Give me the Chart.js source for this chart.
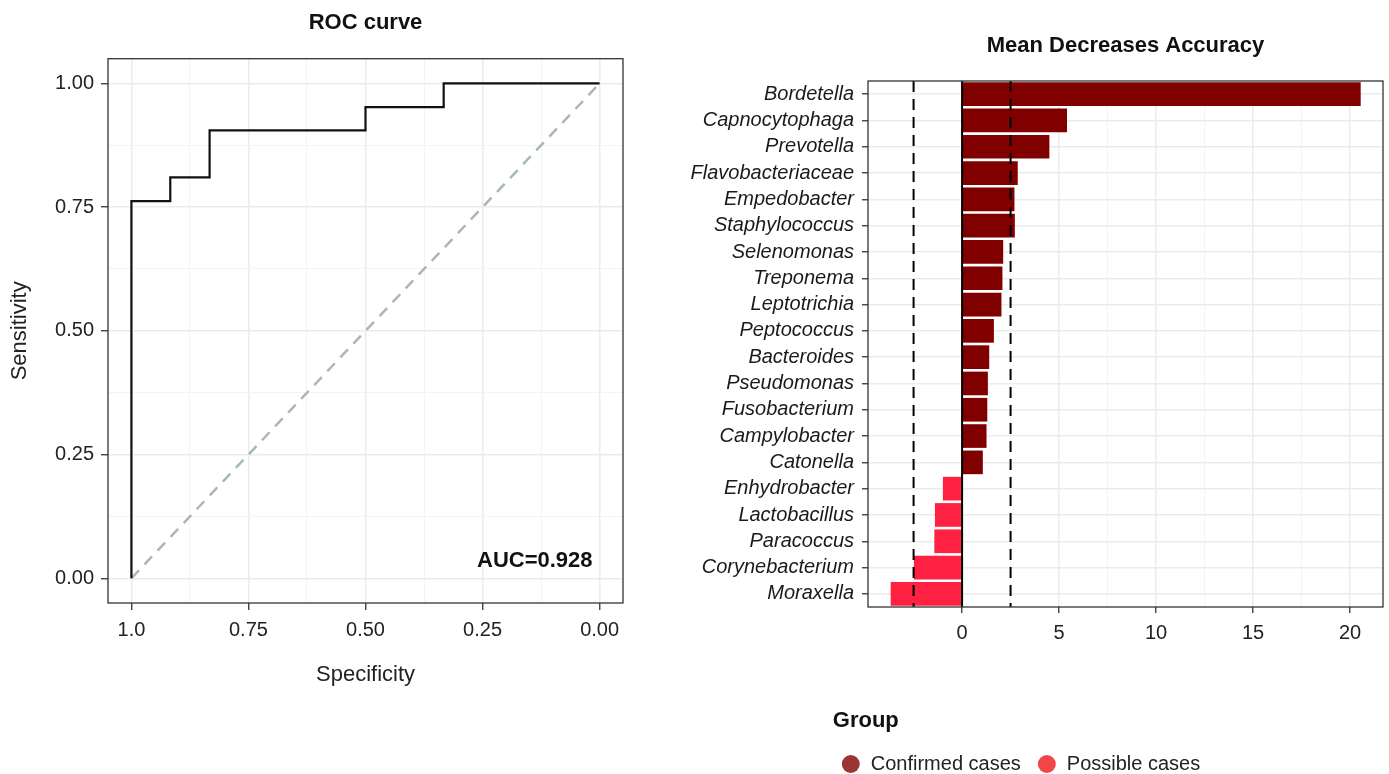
<!DOCTYPE html>
<html>
<head>
<meta charset="utf-8">
<title>ROC curve / Mean Decreases Accuracy</title>
<script src="https://cdn.jsdelivr.net/npm/chart.js@4.4.1/dist/chart.umd.min.js"></script>
<style>
  html, body { margin: 0; padding: 0; background: #fff; overflow: hidden; }
  #roc { position: absolute; left: 0; top: 0; }
  #mda { position: absolute; left: 650px; top: 0; }
</style>
</head>
<body>
<canvas id="roc" width="650" height="774"></canvas>
<canvas id="mda" width="739" height="784"></canvas>
<script>
// ROC curve corners
const rocSpecificity = [1, 1, 0.917, 0.917, 0.833, 0.833, 0.5, 0.5, 0.333, 0.333, 0];
const rocSensitivity = [0, 0.762, 0.762, 0.81, 0.81, 0.905, 0.905, 0.952, 0.952, 1, 1];
const chanceSpecificity = [1, 0];
const chanceSensitivity = [0, 1];
const rocTicks = [0, 0.25, 0.5, 0.75, 1];
const rocXLabels = ["0.00", "0.25", "0.50", "0.75", "1.0"];
const rocYLabels = ["0.00", "0.25", "0.50", "0.75", "1.00"];
const aucText = "AUC=0.928";

// variable importance
const genera = ["Bordetella", "Capnocytophaga", "Prevotella", "Flavobacteriaceae", "Empedobacter",
  "Staphylococcus", "Selenomonas", "Treponema", "Leptotrichia", "Peptococcus", "Bacteroides",
  "Pseudomonas", "Fusobacterium", "Campylobacter", "Catonella", "Enhydrobacter", "Lactobacillus",
  "Paracoccus", "Corynebacterium", "Moraxella"];
const accuracy = [20.55, 5.41, 4.5, 2.87, 2.7, 2.72, 2.12, 2.08, 2.03, 1.64, 1.4,
  1.33, 1.3, 1.26, 1.07, -0.99, -1.4, -1.43, -2.48, -3.68];
const groups = ["Confirmed cases", "Confirmed cases", "Confirmed cases", "Confirmed cases",
  "Confirmed cases", "Confirmed cases", "Confirmed cases", "Confirmed cases", "Confirmed cases",
  "Confirmed cases", "Confirmed cases", "Confirmed cases", "Confirmed cases", "Confirmed cases",
  "Confirmed cases", "Possible cases", "Possible cases", "Possible cases", "Possible cases",
  "Possible cases"];
const groupNames = ["Confirmed cases", "Possible cases"];
const accuracyTicks = [0, 5, 10, 15, 20];
const cutoffs = [-2.5, 2.5];

const barColors = ["#800000", "#ff2142"];
const keyColors = ["#9c3434", "#f14646"];

Chart.defaults.font.family = '"Liberation Sans", Arial, sans-serif';
Chart.defaults.color = "#222";

const majorGrid = "#ebebeb";
const minorGrid = "#f4f4f4";
const axisDark = "#333333";

const framePlugin = {
  id: "frame",
  afterDraw(chart) {
    const { ctx, chartArea: a } = chart;
    ctx.save();
    ctx.strokeStyle = axisDark;
    ctx.lineWidth = 1.3;
    ctx.strokeRect(a.left, a.top, a.right - a.left, a.bottom - a.top);
    ctx.restore();
  }
};

function isOn(list, v) {
  return list.some(t => Math.abs(t - v) < 1e-9);
}

// ---------- ROC curve ----------
const rocMinor = [];
for (let i = 0; i <= 8; i++) rocMinor.push(i / 8);

function rocAxis(labels) {
  return {
    type: "linear",
    min: -0.05,
    max: 1.05,
    afterBuildTicks: s => { s.ticks = rocMinor.map(v => ({ value: v })); },
    ticks: {
      autoSkip: false,
      font: { size: 20 },
      color: "#222",
      callback: v => {
        const i = rocTicks.findIndex(t => Math.abs(t - v) < 1e-9);
        return i < 0 ? "" : labels[i];
      }
    },
    grid: {
      color: c => isOn(rocTicks, c.tick.value) ? majorGrid : minorGrid,
      lineWidth: c => isOn(rocTicks, c.tick.value) ? 1.5 : 1,
      tickColor: c => isOn(rocTicks, c.tick.value) ? axisDark : "rgba(0,0,0,0)",
      tickWidth: 1.3,
      tickLength: 7
    },
    border: { display: false }
  };
}

const rocX = rocAxis(rocXLabels);
rocX.reverse = true;
rocX.ticks.padding = 8;
rocX.afterFit = s => { s.height = 171; };
rocX.title = { display: true, text: "Specificity", font: { size: 22 }, color: "#222",
  padding: { top: 0, bottom: 86 } };

const rocY = rocAxis(rocYLabels);
rocY.ticks.padding = 7;
rocY.afterFit = s => { s.width = 108; };
rocY.title = { display: true, text: "Sensitivity", font: { size: 22 }, color: "#222",
  padding: { top: 7, bottom: 0 } };

new Chart(document.getElementById("roc"), {
  type: "scatter",
  data: {
    datasets: [
      {
        label: "ROC",
        data: rocSpecificity.map((s, i) => ({ x: s, y: rocSensitivity[i] })),
        showLine: true,
        borderColor: "#111",
        borderWidth: 2.2,
        pointRadius: 0,
        order: 0
      },
      {
        label: "chance",
        data: chanceSpecificity.map((s, i) => ({ x: s, y: chanceSensitivity[i] })),
        showLine: true,
        borderColor: "#a9b8b4",
        borderWidth: 2.5,
        borderDash: [11, 8],
        pointRadius: 0,
        order: 1
      }
    ]
  },
  options: {
    responsive: false,
    animation: false,
    events: [],
    layout: { padding: { left: 0, right: 27, top: 0, bottom: 0 } },
    scales: { x: rocX, y: rocY },
    plugins: {
      legend: { display: false },
      tooltip: { enabled: false },
      title: {
        display: true,
        text: "ROC curve",
        fullSize: false,
        color: "#111",
        font: { size: 22, weight: "bold" },
        padding: { top: 9.5, bottom: 22.8 }
      }
    }
  },
  plugins: [framePlugin, {
    id: "auc",
    afterDatasetsDraw(chart) {
      const { ctx, scales: { x, y } } = chart;
      ctx.save();
      ctx.font = 'bold 22px "Liberation Sans", Arial, sans-serif';
      ctx.fillStyle = "#111";
      ctx.textAlign = "right";
      ctx.textBaseline = "middle";
      ctx.fillText(aucText, x.getPixelForValue(0.015), y.getPixelForValue(0.036));
      ctx.restore();
    }
  }]
});

// ---------- Mean Decreases Accuracy ----------
const accMinor = [-2.5, 0, 2.5, 5, 7.5, 10, 12.5, 15, 17.5, 20];

new Chart(document.getElementById("mda"), {
  type: "bar",
  data: {
    labels: genera,
    datasets: groupNames.map((g, k) => ({
      label: g,
      data: accuracy.map((v, i) => groups[i] === g ? v : null),
      backgroundColor: barColors[k],
      borderWidth: 0,
      grouped: false,
      categoryPercentage: 0.9,
      barPercentage: 1,
      pointStyle: "circle"
    }))
  },
  options: {
    indexAxis: "y",
    responsive: false,
    animation: false,
    events: [],
    layout: { padding: { left: 8, right: 6, top: 0, bottom: 0 } },
    scales: {
      x: {
        type: "linear",
        min: -4.85,
        max: 21.7,
        afterBuildTicks: s => { s.ticks = accMinor.map(v => ({ value: v })); },
        afterFit: s => { s.height = 103; },
        ticks: {
          autoSkip: false,
          padding: 8,
          font: { size: 20 },
          color: "#222",
          callback: v => isOn(accuracyTicks, v) ? String(v) : ""
        },
        grid: {
          color: c => isOn(accuracyTicks, c.tick.value) ? majorGrid : minorGrid,
          lineWidth: c => isOn(accuracyTicks, c.tick.value) ? 1.5 : 1,
          tickColor: c => isOn(accuracyTicks, c.tick.value) ? axisDark : "rgba(0,0,0,0)",
          tickWidth: 1.3,
          tickLength: 6
        },
        border: { display: false }
      },
      y: {
        afterFit: s => { s.width = 210; },
        ticks: {
          autoSkip: false,
          padding: 8,
          font: { size: 20, style: "italic" },
          color: "#1a1a1a"
        },
        grid: {
          offset: false,
          color: majorGrid,
          lineWidth: 1.5,
          tickColor: axisDark,
          tickWidth: 1.3,
          tickLength: 6
        },
        border: { display: false }
      }
    },
    plugins: {
      tooltip: { enabled: false },
      title: {
        display: true,
        text: "Mean Decreases Accuracy",
        fullSize: false,
        color: "#111",
        font: { size: 22, weight: "bold" },
        padding: { top: 32.8, bottom: 21.8 }
      },
      legend: {
        position: "bottom",
        align: "center",
        title: {
          display: true,
          text: "Group",
          position: "start",
          color: "#111",
          font: { size: 22, weight: "bold", lineHeight: 1 },
          padding: { top: 0, bottom: 6 }
        },
        labels: {
          usePointStyle: true,
          pointStyle: "circle",
          boxWidth: 20,
          boxHeight: 12.7,
          padding: 16,
          color: "#222",
          font: { size: 20 },
          generateLabels: chart => {
            const items = Chart.defaults.plugins.legend.labels.generateLabels(chart);
            items.forEach((it, k) => {
              it.fillStyle = keyColors[k];
              it.strokeStyle = keyColors[k];
              it.lineWidth = 0;
            });
            return items;
          }
        }
      }
    }
  },
  plugins: [framePlugin, {
    id: "cutoffs",
    afterDatasetsDraw(chart) {
      const { ctx, chartArea: a, scales: { x } } = chart;
      ctx.save();
      ctx.strokeStyle = "#000";
      ctx.lineWidth = 2;
      ctx.setLineDash([11, 7]);
      cutoffs.forEach(v => {
        const px = x.getPixelForValue(v);
        ctx.beginPath();
        ctx.moveTo(px, a.top);
        ctx.lineTo(px, a.bottom);
        ctx.stroke();
      });
      ctx.setLineDash([]);
      const zx = x.getPixelForValue(0);
      ctx.beginPath();
      ctx.moveTo(zx, a.top);
      ctx.lineTo(zx, a.bottom);
      ctx.stroke();
      ctx.restore();
    }
  }]
});
</script>
</body>
</html>
